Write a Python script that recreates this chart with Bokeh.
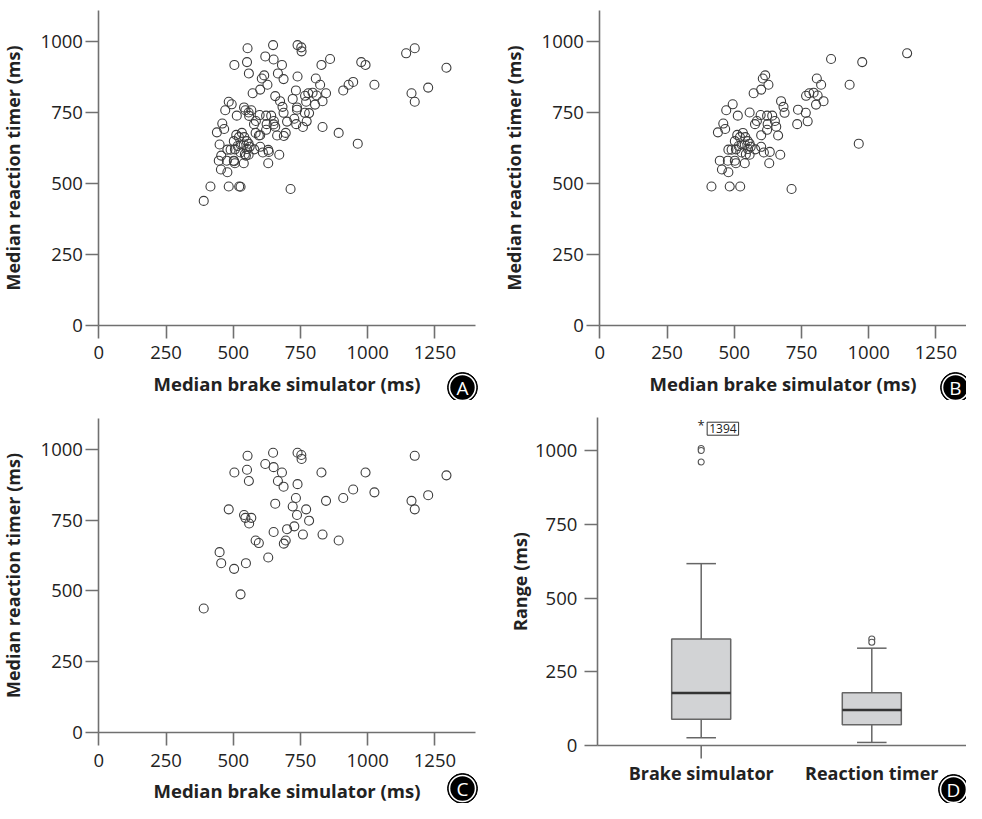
from bokeh.plotting import figure
from bokeh.layouts import gridplot
from bokeh.models import Range1d, FixedTicker, Label
from bokeh.embed import file_html
from bokeh.resources import INLINE
from bokeh.core.properties import value

# ---------------- data ----------------
# Group shown in panel B (median brake simulator, median reaction timer), ms
b_brake = [415, 483, 522, 713, 446, 454, 478, 476, 502, 506, 539, 630, 478, 490,
           439, 459, 466, 470, 494, 513, 557, 572, 600, 606, 615, 627, 577, 584,
           598, 622, 641, 651, 624, 622, 656, 600, 663, 674, 683, 687, 737, 766,
           734, 773, 511, 521, 532, 541, 550, 557, 561, 527, 516, 506, 527, 543,
           557, 551, 578, 600, 610, 632, 671, 767, 779, 795, 810, 804, 832, 807,
           823, 860, 929, 976, 1143, 963, 502, 539]
b_reaction = [489, 489, 489, 480, 580, 549, 539, 580, 580, 571, 571, 571, 619, 619,
              680, 711, 692, 758, 779, 739, 750, 818, 831, 870, 881, 848, 709, 720,
              741, 739, 739, 720, 709, 689, 700, 670, 669, 790, 770, 749, 760, 749,
              709, 719, 671, 663, 678, 663, 649, 640, 629, 637, 632, 620, 609, 603,
              601, 621, 620, 629, 609, 611, 601, 809, 818, 820, 810, 778, 790, 870,
              848, 939, 848, 928, 959, 640, 649, 637]

# Group shown in panel C
c_brake = [390, 527, 449, 455, 503, 547, 630, 483, 540, 545, 567, 559, 583, 595,
           650, 656, 688, 695, 700, 727, 721, 733, 737, 771, 782, 759, 832, 892,
           845, 909, 946, 1025, 992, 828, 1163, 1175, 1225, 1293, 1175, 739, 687,
           666, 681, 650, 619, 648, 553, 551, 558, 504, 739, 753, 754]
c_reaction = [438, 488, 637, 598, 578, 598, 618, 788, 768, 758, 758, 738, 678, 669,
              708, 808, 667, 678, 718, 728, 798, 828, 768, 788, 748, 699, 699, 678,
              818, 828, 858, 848, 918, 918, 818, 788, 838, 908, 977, 877, 868,
              888, 918, 937, 948, 988, 977, 928, 888, 918, 988, 980, 966]

# Panel A = all participants
a_brake = b_brake + c_brake
a_reaction = b_reaction + c_reaction

x_ticks = [0, 250, 500, 750, 1000, 1250]
y_ticks = [0, 250, 500, 750, 1000]

# Panel D: range (ms) box plots
d_categories = ["Brake simulator", "Reaction timer"]
d_pos = [1, 2]
d_lower = [26, 10]
d_q1 = [89, 70]
d_median = [178, 120]
d_q3 = [361, 179]
d_upper = [617, 330]
d_out_pos = [1, 1, 1, 2, 2]
d_out_val = [1008, 1001, 962, 361, 350]
d_extreme = ["1394"]

# ---------------- style ----------------
FONT = "Open Sans"
AXIS_COLOR = "#707070"
TEXT_COLOR = "#222222"
MARK_COLOR = "#3c3c3c"
TICK_LEN = 13


def make_fig(w, h, ox, oy, sx, sy):
    """Figure whose frame fills the whole figure; data origin at pixel (ox, oy)
    measured from top-left, sx / sy pixels per data unit."""
    xr = Range1d(-ox / sx, (w - ox) / sx)
    yr = Range1d(-(h - oy) / sy, oy / sy)
    p = figure(width=w, height=h, output_backend="svg", toolbar_location=None,
               x_range=xr, y_range=yr, min_border=0,
               min_border_left=0, min_border_right=0,
               min_border_top=0, min_border_bottom=0,
               background_fill_color="white", border_fill_color="white")
    p.xgrid.grid_line_color = None
    p.ygrid.grid_line_color = None
    p.outline_line_color = None
    return p


def style_axes(p, xticks, yticks, x_at, y_at, xb, yb):
    for ax in (p.xaxis[0], p.yaxis[0]):
        ax.axis_line_color = AXIS_COLOR
        ax.axis_line_width = 1.6
        ax.major_tick_line_color = AXIS_COLOR
        ax.major_tick_line_width = 1.6
        ax.major_tick_out = TICK_LEN
        ax.major_tick_in = 0
        ax.minor_tick_line_color = None
        ax.major_label_text_font = FONT
        ax.major_label_text_font_size = "18.5px"
        ax.major_label_text_color = TEXT_COLOR
        ax.axis_label_text_font = FONT
        ax.axis_label_text_font_style = "bold"
        ax.axis_label_text_color = TEXT_COLOR
    p.xaxis[0].ticker = FixedTicker(ticks=xticks)
    p.yaxis[0].ticker = FixedTicker(ticks=yticks)
    p.xaxis[0].fixed_location = x_at
    p.yaxis[0].fixed_location = y_at
    p.xaxis[0].bounds = xb
    p.yaxis[0].bounds = yb


def add_badge(p, x, y, letter):
    p.scatter([x], [y], marker="circle", size=30, fill_color="black", line_color="black")
    p.scatter([x], [y], marker="circle", size=26, fill_color="black",
              line_color="white", line_width=1.6)
    p.text([x], [y], text=[letter], text_align="center", text_baseline="middle",
           text_color="white", text_font=value(FONT), text_font_size="19px")


SX = 0.2688   # px per ms, scatter x
SY = 0.2833   # px per ms, scatter y


def scatter_panel(xs, ys, w, h, ox, oy, x_top, badge, badge_px):
    p = make_fig(w, h, ox, oy, SX, SY)
    p.scatter(xs, ys, marker="circle", size=9, fill_color=None,
              line_color=MARK_COLOR, line_width=1.1)
    style_axes(p, x_ticks, y_ticks, 0, 0, (0, x_top), (0, 1110))
    p.xaxis.axis_label = "Median brake simulator (ms)"
    p.yaxis.axis_label = "Median reaction timer (ms)"
    p.xaxis.axis_label_text_font_size = "18.5px"
    p.yaxis.axis_label_text_font_size = "18px"
    p.xaxis.major_label_standoff = 8
    p.yaxis.major_label_standoff = 3
    p.xaxis.axis_label_standoff = 8
    p.yaxis.axis_label_standoff = 12
    add_badge(p, (badge_px[0] - ox) / SX, (oy - badge_px[1]) / SY, badge)
    return p


# badge positions are in each figure's own pixels (from its top-left corner)
pa = scatter_panel(a_brake, a_reaction, 490, 400, 98.4, 324.5, 1400, "A", (462, 387))
pb = scatter_panel(b_brake, b_reaction, 476, 400, 109.4, 324.5, 1400, "B", (465, 387))
pc = scatter_panel(c_brake, c_reaction, 490, 403, 98.4, 332.1, 1400, "C", (462, 388))

# ---- panel D ----
D_W, D_H = 476, 403
D_SX = 170.6      # px per category step
D_SY = 0.2946     # px per ms
D_OX = 210.7 - D_SX   # pixel of x = 0 (category 1 sits at 210.7 px)
D_OY = 344.9
pd = make_fig(D_W, D_H, D_OX, D_OY, D_SX, D_SY)
y_axis_x = 1 - 103.9 / D_SX
box_w = 0.346
cap_w = 0.173
BOX_LINE = "#666666"
pd.segment(x0=d_pos, x1=d_pos, y0=d_q3, y1=d_upper, line_color=BOX_LINE, line_width=1.5)
pd.segment(x0=d_pos, x1=d_pos, y0=d_lower, y1=d_q1, line_color=BOX_LINE, line_width=1.5)
pd.segment(x0=[v - cap_w / 2 for v in d_pos], x1=[v + cap_w / 2 for v in d_pos],
           y0=d_upper, y1=d_upper, line_color=BOX_LINE, line_width=1.5)
pd.segment(x0=[v - cap_w / 2 for v in d_pos], x1=[v + cap_w / 2 for v in d_pos],
           y0=d_lower, y1=d_lower, line_color=BOX_LINE, line_width=1.5)
pd.vbar(x=d_pos, width=box_w, bottom=d_q1, top=d_q3, fill_color="#d2d3d5",
        line_color=BOX_LINE, line_width=1.5)
pd.segment(x0=[v - box_w / 2 for v in d_pos], x1=[v + box_w / 2 for v in d_pos],
           y0=d_median, y1=d_median, line_color="#333333", line_width=2.6)
pd.scatter(d_out_pos, d_out_val, marker="circle", size=6, fill_color="white",
           line_color="#555555", line_width=1.1)
style_axes(pd, d_pos, y_ticks, 0, y_axis_x, (y_axis_x, D_W / D_SX), (0, 1114))
pd.xaxis.major_tick_out = 0
pd.xaxis.major_label_overrides = {1: d_categories[0], 2: d_categories[1]}
pd.xaxis.major_label_text_font_style = "bold"
pd.xaxis.major_label_text_font_size = "18px"
pd.xaxis.major_label_standoff = 16
pd.yaxis.axis_label = "Range (ms)"
pd.yaxis.axis_label_text_font_size = "18px"
pd.yaxis.axis_label_standoff = 0
pd.yaxis.major_label_standoff = 7
# single category tick (only under the first box in the original)
pd.segment(x0=[d_pos[0]], x1=[d_pos[0]], y0=[0], y1=[-TICK_LEN / D_SY],
           line_color=AXIS_COLOR, line_width=1.6)
# extreme value marker
pd.text([d_pos[0]], [1088], text=["*"], text_align="center", text_baseline="middle",
        text_font=value(FONT), text_font_size="13px", text_color=TEXT_COLOR)
pd.add_layout(Label(x=d_pos[0] + 0.035, y=1075, text=d_extreme[0], text_align="left",
                    text_baseline="middle", text_font=FONT, text_font_size="12px",
                    text_color=TEXT_COLOR, border_line_color="#333333",
                    border_line_width=1, padding=2))
add_badge(pd, (463 - D_OX) / D_SX, (D_OY - 389) / D_SY, "D")

grid = gridplot([[pa, pb], [pc, pd]], toolbar_location=None)
open("out.html", "w").write(file_html(grid, INLINE))
